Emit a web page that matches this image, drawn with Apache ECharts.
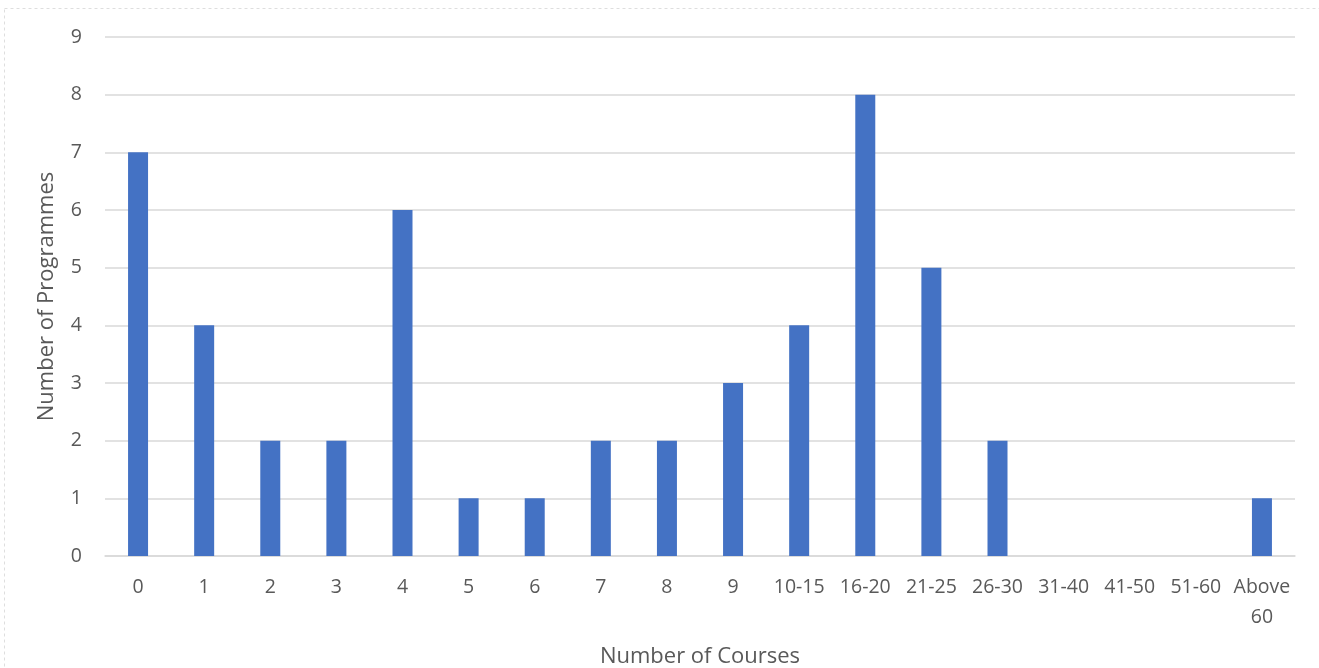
<!DOCTYPE html>
<html>
<head>
<meta charset="utf-8">
<script src="https://cdn.jsdelivr.net/npm/echarts@6/dist/echarts.min.js"></script>
<style>html,body{margin:0;padding:0;background:#fff;}#c{width:1319px;height:668px;}</style>
</head>
<body>
<div id="c"></div>
<script>
const categories = ['0','1','2','3','4','5','6','7','8','9','10-15','16-20','21-25','26-30','31-40','41-50','51-60','Above\n60'];
const programmes = [7,4,2,2,6,1,1,2,2,3,4,8,5,2,0,0,0,1];
const yTicks = {min:0, max:9, interval:1};

const chart = echarts.init(document.getElementById('c'));
const font = 'Open Sans';
chart.setOption({
  animation:false,
  graphic:[{type:'rect', shape:{x:4.5,y:8.5,width:1330,height:700}, style:{fill:'none', stroke:'#dedede', lineWidth:1, lineDash:[3,3]}, silent:true}],
  grid:{left:105, right:24, top:37, bottom:112, outerBoundsMode:'none', containLabel:false},
  xAxis:{
    type:'category', data:categories,
    name:'Number of Courses', nameLocation:'middle', nameGap:90,
    nameTextStyle:{fontFamily:font, fontSize:22, color:'#595959'},
    axisLine:{lineStyle:{color:'#d9d9d9', width:1.5}},
    axisTick:{show:false},
    axisLabel:{fontFamily:font, fontSize:19.5, color:'#595959', margin:16, interval:0, lineHeight:30}
  },
  yAxis:{
    type:'value', min:yTicks.min, max:yTicks.max, interval:yTicks.interval,
    name:'Number of Programmes', nameLocation:'middle', nameGap:47,
    nameTextStyle:{fontFamily:font, fontSize:22, color:'#595959'},
    axisLine:{show:false}, axisTick:{show:false},
    axisLabel:{fontFamily:font, fontSize:19.5, color:'#595959', margin:23},
    splitLine:{lineStyle:{color:'#d9d9d9', width:1.5}}
  },
  series:[{type:'bar', data:programmes, barWidth:20, itemStyle:{color:'#4472C4'}}]
});
</script>
</body>
</html>
